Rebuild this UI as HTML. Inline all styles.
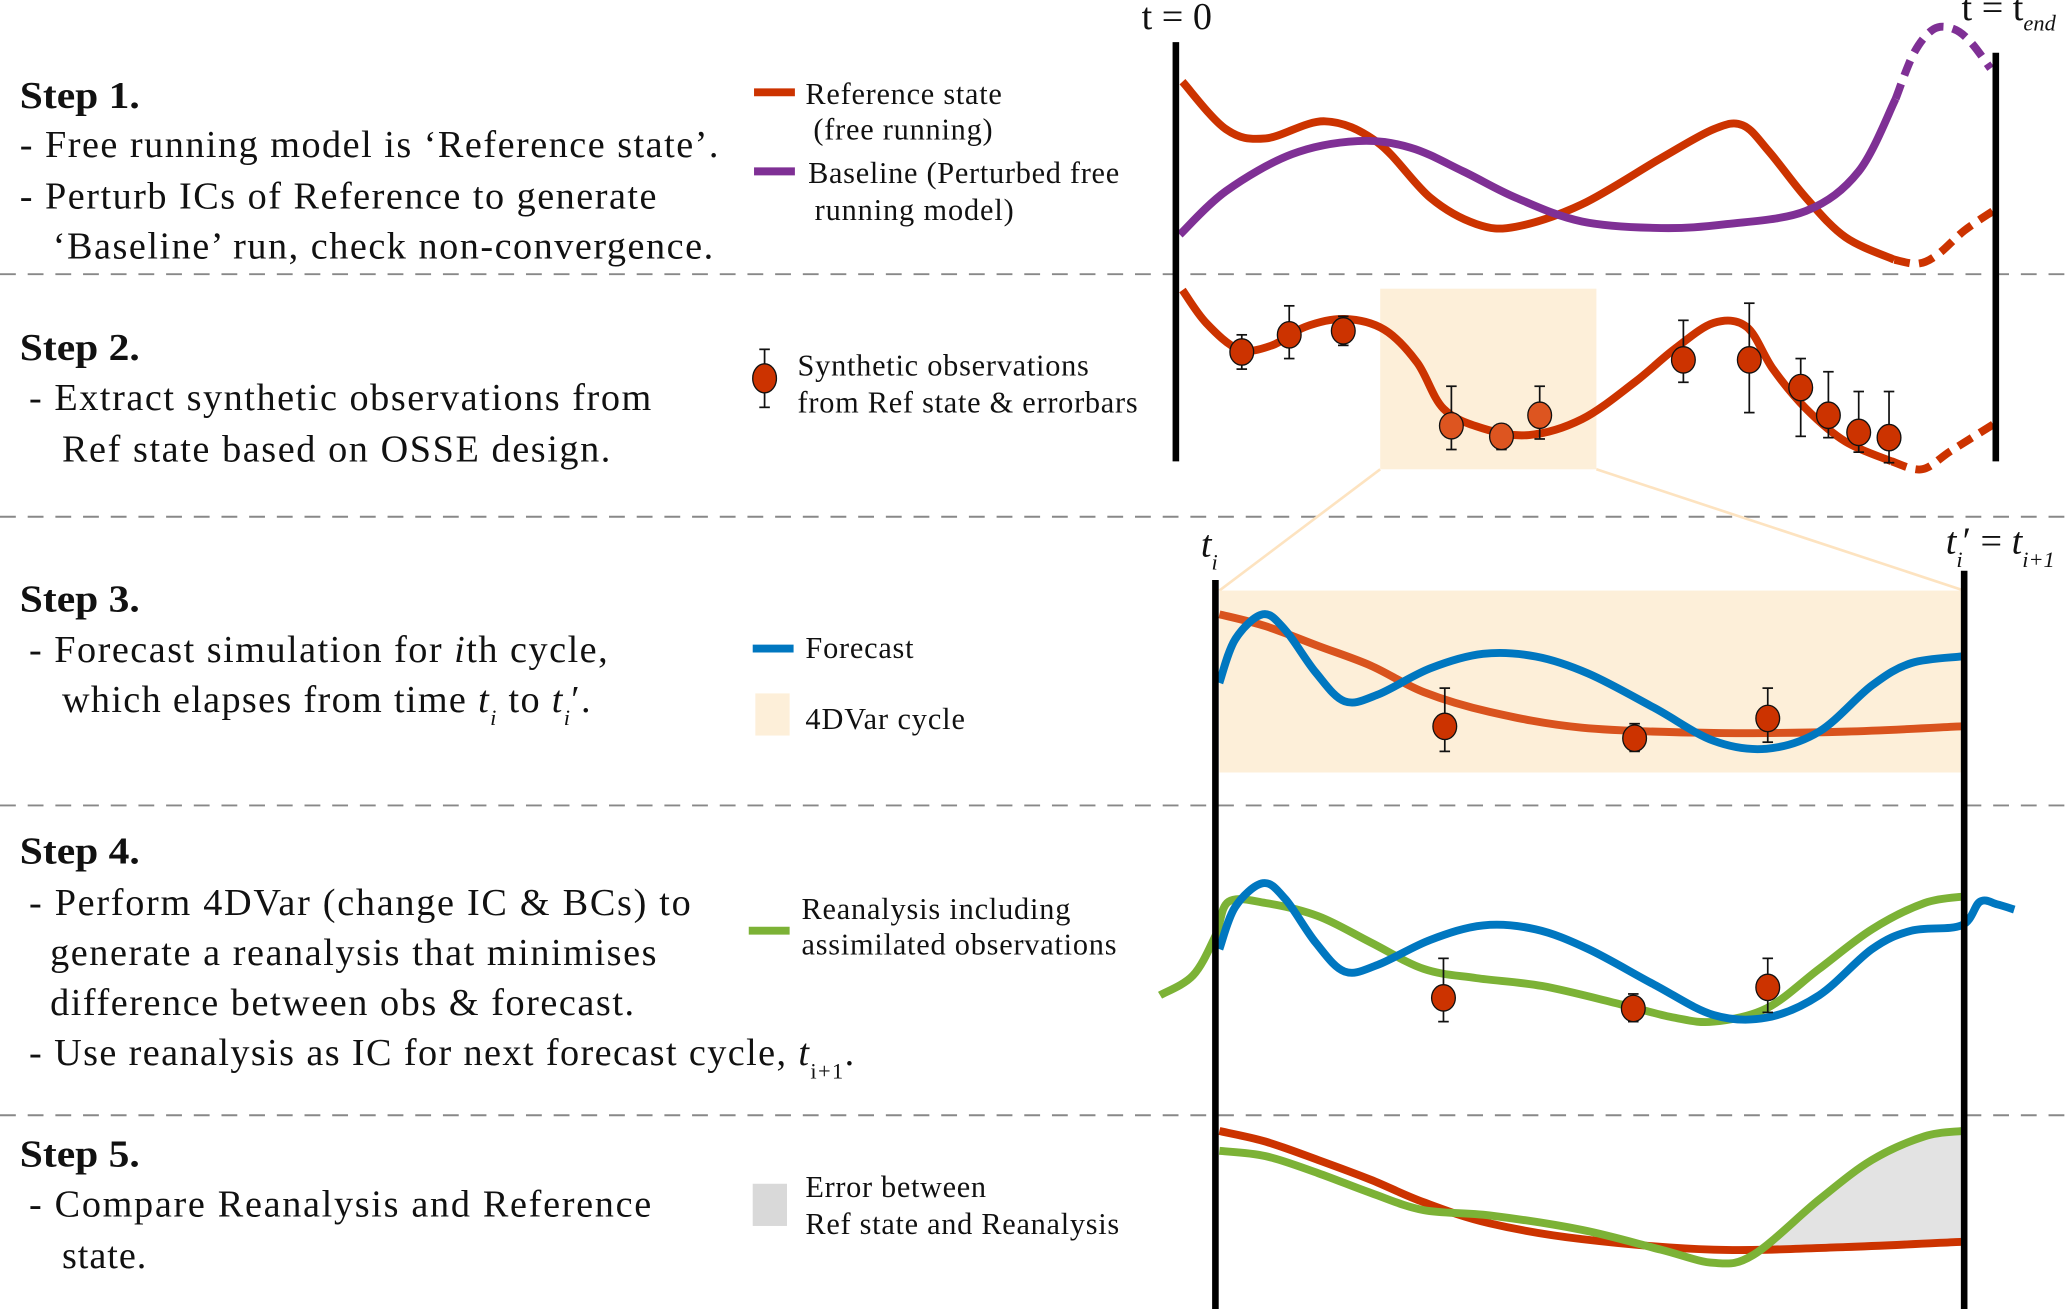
<!DOCTYPE html>
<html><head><meta charset="utf-8"><style>
html,body{margin:0;padding:0;background:#fff;}
svg{display:block;}
text{font-family:"Liberation Serif",serif;fill:#111;}
.b{font-size:29px;}
.h{font-size:29px;font-weight:bold;}
.l{font-size:23px;}
</style></head><body>
<svg id="fig" width="2067" height="1309" viewBox="0 0 1568 993" xmlns="http://www.w3.org/2000/svg">
<g stroke="#888" stroke-width="1.5" stroke-dasharray="12,9">
<line x1="0" y1="208" x2="1568" y2="208"/><line x1="0" y1="392" x2="1568" y2="392"/>
<line x1="0" y1="611" x2="1568" y2="611"/><line x1="0" y1="846" x2="1568" y2="846"/>
</g>
<g>
<text class="h" x="15" y="82" textLength="91" lengthAdjust="spacingAndGlyphs">Step 1.</text>
<text class="b" x="15" y="119" textLength="530">- Free running model is ‘Reference state’.</text>
<text class="b" x="15" y="158" textLength="483">- Perturb ICs of Reference to generate</text>
<text class="b" x="40" y="196" textLength="501">‘Baseline’ run, check non-convergence.</text>
<text class="h" x="15" y="273" textLength="91" lengthAdjust="spacingAndGlyphs">Step 2.</text>
<text class="b" x="22" y="311" textLength="472">- Extract synthetic observations from</text>
<text class="b" x="47" y="350" textLength="416">Ref state based on OSSE design.</text>
<text class="h" x="15" y="464" textLength="91" lengthAdjust="spacingAndGlyphs">Step 3.</text>
<text class="b" x="22" y="502" textLength="439">- Forecast simulation for <tspan font-style="italic">i</tspan>th cycle,</text>
<text class="b" x="47" y="540" textLength="401">which elapses from time <tspan font-style="italic">t</tspan><tspan font-style="italic" font-size="17" dy="10">i</tspan><tspan dy="-10"> to </tspan><tspan font-style="italic">t</tspan><tspan font-style="italic" font-size="17" dy="10">i</tspan><tspan dy="-10">′.</tspan></text>
<text class="h" x="15" y="655" textLength="91" lengthAdjust="spacingAndGlyphs">Step 4.</text>
<text class="b" x="22" y="694" textLength="502">- Perform 4DVar (change IC &amp; BCs) to</text>
<text class="b" x="38" y="732" textLength="460">generate a reanalysis that minimises</text>
<text class="b" x="38" y="770" textLength="443">difference between obs &amp; forecast.</text>
<text class="b" x="22" y="808" textLength="626">- Use reanalysis as IC for next forecast cycle, <tspan font-style="italic">t</tspan><tspan font-size="17" dy="10">i+1</tspan><tspan dy="-10">.</tspan></text>
<text class="h" x="15" y="885" textLength="91" lengthAdjust="spacingAndGlyphs">Step 5.</text>
<text class="b" x="22" y="923" textLength="472">- Compare Reanalysis and Reference</text>
<text class="b" x="47" y="962" textLength="64">state.</text>
</g>
<g>
<line x1="572" y1="70" x2="603" y2="70" stroke="#cc3300" stroke-width="6"/>
<text class="l" x="611" y="79" textLength="149">Reference state</text><text class="l" x="617" y="106" textLength="136">(free running)</text>
<line x1="572" y1="130" x2="603" y2="130" stroke="#7f3095" stroke-width="6"/>
<text class="l" x="613" y="139" textLength="236">Baseline (Perturbed free</text><text class="l" x="618" y="167" textLength="151">running model)</text>
<line x1="580" y1="265" x2="580" y2="309" stroke="#111" stroke-width="1.3"/>
<line x1="576" y1="265" x2="584" y2="265" stroke="#111" stroke-width="1.3"/><line x1="576" y1="309" x2="584" y2="309" stroke="#111" stroke-width="1.3"/>
<ellipse cx="580" cy="287" rx="9" ry="11" fill="#cc3300" stroke="#111" stroke-width="1"/>
<text class="l" x="605" y="285" textLength="221">Synthetic observations</text><text class="l" x="605" y="313" textLength="258">from Ref state &amp; errorbars</text>
<line x1="571" y1="492" x2="602" y2="492" stroke="#0077c0" stroke-width="6"/>
<text class="l" x="611" y="499" textLength="82">Forecast</text>
<rect x="573" y="526" width="26" height="32" fill="#fdefd9"/>
<text class="l" x="611" y="553" textLength="121">4DVar cycle</text>
<line x1="568" y1="706" x2="599" y2="706" stroke="#7cb236" stroke-width="6"/>
<text class="l" x="608" y="697" textLength="204">Reanalysis including</text><text class="l" x="608" y="724" textLength="239">assimilated observations</text>
<rect x="571" y="898" width="26" height="32" fill="#d9d9d9"/>
<text class="l" x="611" y="908" textLength="137">Error between</text><text class="l" x="611" y="936" textLength="238">Ref state and Reanalysis</text>
</g>
<g>
<rect x="1047" y="219" width="164" height="137" fill="#fdefd9"/>
<line x1="1047" y1="356" x2="925" y2="448" stroke="#fde3c0" stroke-width="2"/>
<line x1="1211" y1="356" x2="1490" y2="448" stroke="#fde3c0" stroke-width="2"/>
<rect x="925" y="448" width="565" height="138" fill="#fdefd9"/>
</g>
<g id="curves"></g>
<g id="obs"></g>
<g stroke="#000" stroke-width="5">
<line x1="892" y1="32" x2="892" y2="350"/><line x1="1514" y1="40" x2="1514" y2="350"/>
<line x1="922" y1="440" x2="922" y2="993"/><line x1="1490" y1="433" x2="1490" y2="993"/>
</g>
<g>
<text x="866" y="22" font-size="29">t = 0</text>
<text x="1488" y="15" font-size="29">t = t<tspan font-size="17" font-style="italic" dy="8">end</tspan></text>
<text x="911" y="422" font-size="29" font-style="italic">t<tspan font-size="17" dy="10">i</tspan></text>
<text x="1476" y="420" font-size="29" font-style="italic">t<tspan font-size="17" dy="10">i</tspan><tspan dy="-10" font-style="normal">′ = </tspan>t<tspan font-size="17" dy="10">i+1</tspan></text>
</g>
</svg>
<script>
const refStep1=[[897,62],[930,98],[960,105],[1005,92],[1045,108],[1085,150],[1120,170],[1150,172],[1200,155],[1260,120],[1300,98],[1322,95],[1342,115],[1370,150],[1400,180],[1437,197]];
const refStep1Dash=[[1437,197],[1455,200],[1470,193],[1490,175],[1512,160]];
const baseStep1=[[895,178],[930,145],[980,117],[1030,107],[1070,112],[1110,130],[1150,150],[1200,168],[1260,173],[1310,170],[1370,160],[1410,130],[1438,75]];
const baseStep1Dash=[[1438,75],[1452,40],[1467,22],[1482,22],[1495,32],[1510,52]];
const refStep2=[[897,220],[915,245],[940,265],[965,262],[990,248],[1020,242],[1050,250],[1075,275],[1095,310],[1125,325],[1160,330],[1200,318],[1240,290],[1270,265],[1300,245],[1325,248],[1345,280],[1370,310],[1400,335],[1435,350]];
const refStep2Dash=[[1435,350],[1458,356],[1480,342],[1512,322]];
const refStep3=[[925,466],[960,475],[1000,490],[1040,505],[1080,525],[1130,540],[1200,552],[1300,556],[1400,555],[1488,551]];
const fcStep3=[[925,518],[937,485],[958,466],[975,478],[998,510],[1020,532],[1045,527],[1085,507],[1125,496],[1165,498],[1205,511],[1255,537],[1300,562],[1340,568],[1380,555],[1420,520],[1450,503],[1488,498]];
const fcStep4=[[925,720],[937,688],[958,670],[975,682],[998,715],[1020,737],[1045,732],[1085,713],[1125,702],[1165,705],[1205,720],[1255,747],[1300,770],[1340,772],[1380,755],[1420,720],[1450,706],[1488,702],[1502,684],[1515,686],[1528,690]];
const reaStep4=[[880,755],[905,740],[922,710],[932,684],[960,685],[1000,695],[1040,715],[1080,735],[1120,742],[1170,748],[1230,762],[1270,772],[1300,775],[1340,765],[1380,735],[1420,705],[1460,685],[1490,680]];
const refStep5=[[925,858],[960,866],[1000,880],[1040,895],[1080,912],[1130,928],[1200,940],[1300,948],[1400,946],[1488,942]];
const reaStep5=[[925,873],[960,877],[1000,890],[1040,905],[1080,918],[1130,922],[1200,933],[1260,948],[1300,958],[1330,952],[1380,910],[1420,880],[1460,862],[1488,858]];
// observations: x, y, err low, err high
const obsX=[942,978,1019,1101,1139,1168,1277,1327,1366,1387,1410,1433,1096,1240,1341,1095,1239,1341];
const obsY=[267,254,251,323,331,315,273,273,294,315,328,332,551,560,545,757,765,749];
const obsLo=[254,232,240,293,322,293,243,230,272,282,297,297,522,549,522,727,754,727];
const obsHi=[280,272,262,341,341,333,290,313,331,332,343,351,570,570,563,775,775,768];
const obsCol=['#cc3300','#cc3300','#cc3300','#dd5520','#dd5520','#dd5520','#cc3300','#cc3300','#cc3300','#cc3300','#cc3300','#cc3300','#cc3300','#cc3300','#cc3300','#cc3300','#cc3300','#cc3300'];
const NS='http://www.w3.org/2000/svg';
function cr(p){let d='M'+p[0][0]+','+p[0][1];for(let i=0;i<p.length-1;i++){const a=p[i-1]||p[i],b=p[i],c=p[i+1],e=p[i+2]||c;d+=' C'+(b[0]+(c[0]-a[0])/6)+','+(b[1]+(c[1]-a[1])/6)+' '+(c[0]-(e[0]-b[0])/6)+','+(c[1]-(e[1]-b[1])/6)+' '+c[0]+','+c[1];}return d;}
const cg=document.getElementById('curves');
const gi=reaStep5.findIndex(p=>p[0]>=1330);
let poly=reaStep5.slice(gi).concat(refStep5.filter(p=>p[0]>=1330).reverse()).concat([[1330,949]]);
const fill=document.createElementNS(NS,'polygon');


fill.setAttribute('points',poly.map(p=>p.join(',')).join(' '));fill.setAttribute('fill','#e3e3e3');cg.appendChild(fill);
function line(pts,col,name,dash){const p=document.createElementNS(NS,'path');


p.setAttribute('d',cr(pts));p.setAttribute('fill','none');p.setAttribute('stroke',col);p.setAttribute('stroke-width','6');if(dash)p.setAttribute('stroke-dasharray','12,7');cg.appendChild(p);}
line(refStep1,'#cc3300','reference-line-step1');line(refStep1Dash,'#cc3300','reference-dashed-step1',1);
line(baseStep1,'#7f3095','baseline-line-step1');line(baseStep1Dash,'#7f3095','baseline-dashed-step1',1);
line(refStep2,'#cc3300','reference-line-step2');line(refStep2Dash,'#cc3300','reference-dashed-step2',1);
line(refStep3,'#d9531e','reference-line-step3');line(fcStep3,'#0077c0','forecast-line-step3');
line(reaStep4,'#7cb236','reanalysis-line-step4');line(fcStep4,'#0077c0','forecast-line-step4');
line(refStep5,'#cc3300','reference-line-step5');line(reaStep5,'#7cb236','reanalysis-line-step5');
const og=document.getElementById('obs');
for(let i=0;i<obsX.length;i++){const g=document.createElementNS(NS,'g');


const x=obsX[i];
g.innerHTML='<line x1="'+x+'" y1="'+obsLo[i]+'" x2="'+x+'" y2="'+obsHi[i]+'" stroke="#111" stroke-width="1.3"/><line x1="'+(x-4)+'" y1="'+obsLo[i]+'" x2="'+(x+4)+'" y2="'+obsLo[i]+'" stroke="#111" stroke-width="1.3"/><line x1="'+(x-4)+'" y1="'+obsHi[i]+'" x2="'+(x+4)+'" y2="'+obsHi[i]+'" stroke="#111" stroke-width="1.3"/><ellipse cx="'+x+'" cy="'+obsY[i]+'" rx="9" ry="10" fill="'+obsCol[i]+'" stroke="#111" stroke-width="1"/>';
og.appendChild(g);}
</script>
</body></html>
